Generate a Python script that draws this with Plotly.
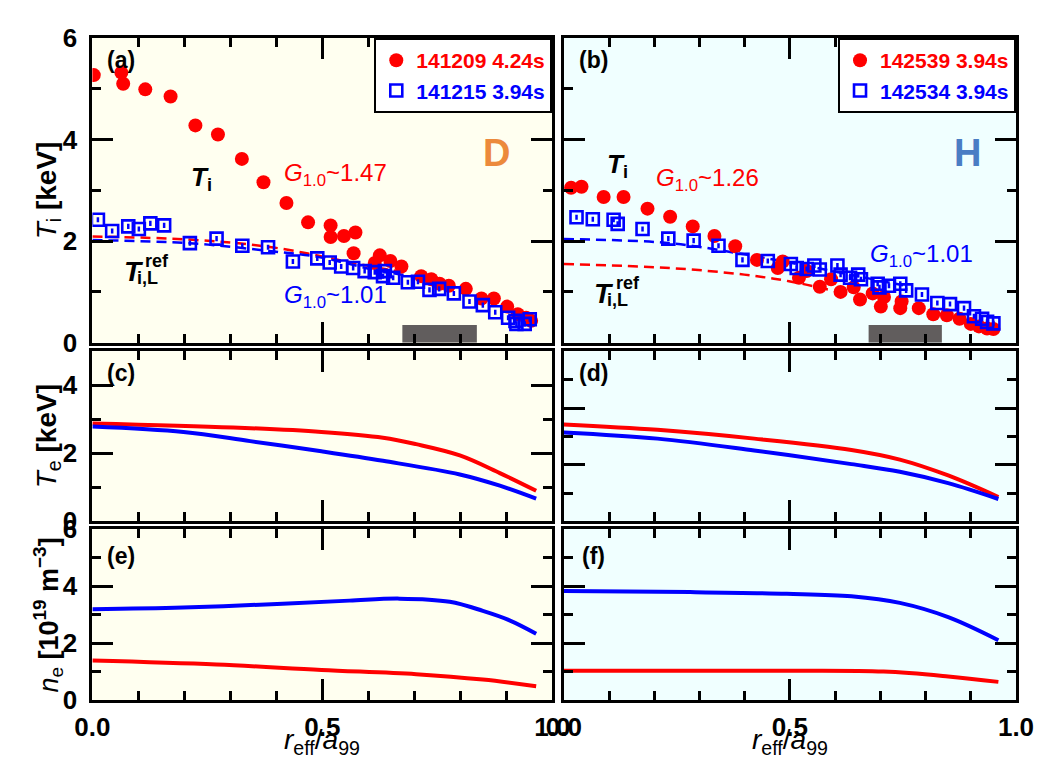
import plotly.graph_objects as go

W, H = 1063, 767
FONT = "Liberation Sans, Arial, sans-serif"
RED = "#FF0000"
BLUE = "#0000FF"

# ---------------- data ----------------
# (a) D plasma, Ti
a_red_x = [0.003, 0.063, 0.067, 0.115, 0.170, 0.224, 0.273, 0.325, 0.372, 0.422, 0.469, 0.518, 0.518,
           0.547, 0.572, 0.568, 0.625, 0.614, 0.648, 0.672, 0.715, 0.737, 0.755, 0.775, 0.812, 0.846,
           0.873, 0.902, 0.925, 0.943, 0.954]
a_red_y = [5.27, 5.32, 5.10, 4.99, 4.85, 4.28, 4.10, 3.62, 3.16, 2.75, 2.37, 2.31, 2.08,
           2.10, 2.17, 1.76, 1.72, 1.57, 1.61, 1.50, 1.31, 1.25, 1.16, 1.12, 1.06, 0.87,
           0.87, 0.71, 0.56, 0.49, 0.43]
a_blue_x = [0.012, 0.043, 0.078, 0.101, 0.126, 0.156, 0.212, 0.270, 0.326, 0.382, 0.436, 0.489, 0.516,
            0.541, 0.567, 0.592, 0.614, 0.636, 0.632, 0.654, 0.686, 0.708, 0.733, 0.754, 0.786, 0.820,
            0.849, 0.876, 0.904, 0.920, 0.922, 0.940, 0.951]
a_blue_y = [2.42, 2.20, 2.29, 2.24, 2.35, 2.31, 1.96, 2.05, 1.91, 1.88, 1.60, 1.66, 1.58,
            1.50, 1.47, 1.41, 1.39, 1.41, 1.31, 1.28, 1.19, 1.20, 1.04, 1.06, 0.97, 0.81,
            0.74, 0.60, 0.49, 0.43, 0.37, 0.37, 0.46]
a_ref_red_x = [0.0, 0.21, 0.39, 0.59, 0.68]
a_ref_red_y = [2.09, 2.03, 1.88, 1.53, 1.38]
a_ref_blue_x = [0.0, 0.21, 0.39, 0.49, 0.61, 0.68]
a_ref_blue_y = [2.02, 1.96, 1.80, 1.69, 1.44, 1.33]

# (b) H plasma, Ti
b_red_x = [0.016, 0.039, 0.088, 0.132, 0.185, 0.235, 0.285, 0.333, 0.379, 0.427, 0.473, 0.484, 0.520,
           0.537, 0.566, 0.591, 0.612, 0.641, 0.655, 0.683, 0.701, 0.708, 0.744, 0.747, 0.785, 0.817,
           0.847, 0.875, 0.900, 0.918, 0.936, 0.950]
b_red_y = [3.05, 3.07, 2.87, 2.87, 2.64, 2.48, 2.29, 2.10, 1.90, 1.63, 1.47, 1.60, 1.28,
           1.41, 1.10, 1.25, 1.00, 1.09, 0.85, 0.97, 0.71, 0.90, 0.68, 0.81, 0.68, 0.56,
           0.54, 0.47, 0.37, 0.32, 0.28, 0.27]
b_blue_x = [0.028, 0.064, 0.110, 0.119, 0.174, 0.231, 0.287, 0.342, 0.395, 0.451, 0.502, 0.515, 0.537,
            0.554, 0.566, 0.605, 0.612, 0.633, 0.651, 0.657, 0.694, 0.698, 0.719, 0.744, 0.757, 0.792,
            0.826, 0.854, 0.885, 0.907, 0.925, 0.936, 0.950]
b_blue_y = [2.47, 2.43, 2.42, 2.34, 2.24, 2.05, 2.01, 1.91, 1.63, 1.61, 1.55, 1.47, 1.45,
            1.52, 1.44, 1.52, 1.34, 1.28, 1.34, 1.25, 1.16, 1.09, 1.12, 1.16, 1.03, 0.95,
            0.78, 0.76, 0.68, 0.52, 0.47, 0.41, 0.38]
b_ref_red_x = [0.0, 0.235, 0.399, 0.498, 0.598]
b_ref_red_y = [1.55, 1.47, 1.34, 1.21, 1.02]
b_ref_blue_x = [0.0, 0.235, 0.399, 0.498, 0.705, 0.75]
b_ref_blue_y = [2.04, 1.96, 1.74, 1.58, 1.21, 1.13]

ti_err = 0.05

# (c) Te D
c_red_x = [0.0, 0.306, 0.498, 0.632, 0.704, 0.799, 0.886, 0.965]
c_red_y = [2.88, 2.76, 2.63, 2.46, 2.27, 1.94, 1.42, 0.90]
c_blue_x = [0.0, 0.198, 0.343, 0.498, 0.632, 0.799, 0.886, 0.965]
c_blue_y = [2.79, 2.63, 2.36, 2.06, 1.78, 1.38, 1.05, 0.67]
# (d) Te H
d_x = [0.0, 0.207, 0.421, 0.636, 0.743, 0.850, 0.961]
d_red_y = [3.42, 3.23, 2.92, 2.52, 2.18, 1.62, 0.86]
d_blue_y = [3.14, 2.92, 2.50, 2.02, 1.75, 1.35, 0.79]
# (e) ne D
e_blue_x = [0.0, 0.197, 0.414, 0.559, 0.668, 0.777, 0.849, 0.907, 0.965]
e_blue_y = [3.19, 3.25, 3.38, 3.49, 3.56, 3.45, 3.13, 2.80, 2.33]
e_red_x = [0.0, 0.270, 0.498, 0.704, 0.849, 0.965]
e_red_y = [1.39, 1.25, 1.06, 0.91, 0.72, 0.49]
# (f) ne H
f_blue_x = [0.0, 0.279, 0.493, 0.636, 0.743, 0.850, 0.961]
f_blue_y = [3.83, 3.79, 3.73, 3.64, 3.41, 2.91, 2.10]
f_red_x = [0.0, 0.493, 0.707, 0.850, 0.961]
f_red_y = [1.03, 1.03, 1.00, 0.83, 0.64]

legend_a = ["141209 4.24s", "141215 3.94s"]
legend_b = ["142539 3.94s", "142534 3.94s"]
gray_band = [0.674, 0.836, 0.35]

# ---------------- layout geometry (pixels) ----------------
LX = (77, 553)
RX = (565, 1033)
ROW_A = (24, 341)
ROW_C = (350, 527)
ROW_E = (535, 713)


def xd(p):
    return [p[0] / W, p[1] / W]


def yd(p):
    return [1 - p[1] / H, 1 - p[0] / H]


fig = go.Figure()

# dashed reference lines
for xs, ys, col, ax in [(a_ref_red_x, a_ref_red_y, RED, 1), (a_ref_blue_x, a_ref_blue_y, BLUE, 1),
                        (b_ref_red_x, b_ref_red_y, RED, 2), (b_ref_blue_x, b_ref_blue_y, BLUE, 2)]:
    sfx = "" if ax == 1 else str(ax)
    fig.add_trace(go.Scatter(x=xs, y=ys, mode="lines", line=dict(color=col, width=2.5, dash="10px,6px", shape="spline"),
                             xaxis="x" + sfx, yaxis="y" + sfx, showlegend=False, hoverinfo="skip"))


def circles(xs, ys, name, ax, leg):
    sfx = "" if ax == 1 else str(ax)
    return go.Scatter(x=xs, y=ys, mode="markers", name=f"<span style='color:{RED}'><b>{name}</b></span>",
                      marker=dict(symbol="circle", size=14, color=RED, line=dict(width=0)),
                      xaxis="x" + sfx, yaxis="y" + sfx, legend=leg, legendgroup=name)


def squares(xs, ys, name, ax, leg):
    sfx = "" if ax == 1 else str(ax)
    return go.Scatter(x=xs, y=ys, mode="markers", name=f"<span style='color:{BLUE}'><b>{name}</b></span>",
                      marker=dict(symbol="square-open", size=12, color=BLUE, line=dict(width=2.6, color=BLUE)),
                      error_y=dict(type="constant", value=ti_err, color=BLUE, thickness=2.5, width=0),
                      xaxis="x" + sfx, yaxis="y" + sfx, legend=leg, legendgroup=name)


fig.add_trace(circles(a_red_x, a_red_y, legend_a[0], 1, "legend"))
fig.add_trace(squares(a_blue_x, a_blue_y, legend_a[1], 1, "legend"))
fig.add_trace(circles(b_red_x, b_red_y, legend_b[0], 2, "legend2"))
fig.add_trace(squares(b_blue_x, b_blue_y, legend_b[1], 2, "legend2"))

for xs, ys, col, ax in [(c_red_x, c_red_y, RED, 3), (c_blue_x, c_blue_y, BLUE, 3),
                        (d_x, d_red_y, RED, 4), (d_x, d_blue_y, BLUE, 4),
                        (e_blue_x, e_blue_y, BLUE, 5), (e_red_x, e_red_y, RED, 5),
                        (f_blue_x, f_blue_y, BLUE, 6), (f_red_x, f_red_y, RED, 6)]:
    fig.add_trace(go.Scatter(x=xs, y=ys, mode="lines", line=dict(color=col, width=4, shape="spline"),
                             xaxis=f"x{ax}", yaxis=f"y{ax}", showlegend=False, hoverinfo="skip"))

tickfont = dict(family=FONT, size=26, color="black", weight="bold")


def xaxis(dom, anchor, labels):
    return dict(domain=xd(dom), anchor=anchor, range=[0, 1], showline=True, linecolor="black", linewidth=3,
                mirror="ticks", ticks="inside", ticklen=21, tickwidth=3, tickcolor="black",
                tick0=0, dtick=0.5, tickformat=".1f", showticklabels=labels, tickfont=tickfont,
                ticklabelstandoff=2,
                minor=dict(ticks="inside", ticklen=9, tickwidth=3, tickcolor="black", dtick=0.1),
                showgrid=False, zeroline=False)


def yaxis(dom, anchor, rng, labels):
    return dict(domain=yd(dom), anchor=anchor, range=rng, showline=True, linecolor="black", linewidth=3,
                mirror="ticks", ticks="inside", ticklen=21, tickwidth=3, tickcolor="black",
                tick0=0, dtick=2, showticklabels=labels, tickfont=tickfont,
                ticklabelstandoff=7,
                minor=dict(ticks="inside", ticklen=9, tickwidth=3, tickcolor="black", dtick=1),
                showgrid=False, zeroline=False)


legfont = dict(family=FONT, size=21)
layout = dict(
    width=W, height=H, margin=dict(l=0, r=0, t=0, b=0),
    paper_bgcolor="white", plot_bgcolor="rgba(0,0,0,0)",
    font=dict(family=FONT, color="black"),
    xaxis=xaxis(LX, "y", False), yaxis=yaxis(ROW_A, "x", [0, 6], True),
    xaxis2=xaxis(RX, "y2", False), yaxis2=yaxis(ROW_A, "x2", [0, 6], False),
    xaxis3=xaxis(LX, "y3", False), yaxis3=yaxis(ROW_C, "x3", [0, 5], True),
    xaxis4=xaxis(RX, "y4", False), yaxis4=yaxis(ROW_C, "x4", [0, 6], False),
    xaxis5=xaxis(LX, "y5", True), yaxis5=yaxis(ROW_E, "x5", [0, 6], True),
    xaxis6=xaxis(RX, "y6", True), yaxis6=yaxis(ROW_E, "x6", [0, 6], False),
    legend=dict(x=LX[1] / W, xanchor="right", y=1 - ROW_A[0] / H, yanchor="top", bgcolor="white",
                bordercolor="black", borderwidth=2, font=legfont,
                tracegroupgap=0, traceorder="grouped"),
    legend2=dict(x=RX[1] / W, xanchor="right", y=1 - ROW_A[0] / H, yanchor="top", bgcolor="white",
                 bordercolor="black", borderwidth=2, font=legfont,
                 tracegroupgap=0, traceorder="grouped"),
)
fig.update_layout(**layout)

# backgrounds
bgs = [("", "#FFFFF0"), ("2", "#F0FFFF"), ("3", "#FFFFF0"), ("4", "#F0FFFF"), ("5", "#FFFFF0"), ("6", "#F0FFFF")]
for sfx, col in bgs:
    fig.add_shape(type="rect", xref=f"x{sfx} domain", yref=f"y{sfx} domain", x0=0, x1=1, y0=0, y1=1,
                  fillcolor=col, line=dict(width=0), layer="below")
for sfx in ["", "2"]:
    fig.add_shape(type="rect", xref=f"x{sfx}", yref=f"y{sfx}", x0=gray_band[0], x1=gray_band[1], y0=0, y1=gray_band[2],
                  fillcolor="#615d5d", line=dict(width=0), layer="below")


def ann(text, x, y, size, color="black", angle=0, xanchor="center", yanchor="middle", yshift=0):
    fig.add_annotation(text=text, x=x / W, y=1 - y / H, xref="paper", yref="paper", showarrow=False,
                       font=dict(family=FONT, size=size, color=color), textangle=angle,
                       xanchor=xanchor, yanchor=yanchor, yshift=yshift)


# panel labels
for lab, x, y in [("(a)", 107, 47), ("(b)", 596, 47), ("(c)", 107, 373), ("(d)", 596, 373),
                  ("(e)", 107, 563), ("(f)", 596, 563)]:
    ann(f"<b>{lab}</b>", x, y, 23)

ann("<b>D</b>", 495, 144, 38, "#EC8A3C")
ann("<b>H</b>", 983, 144, 38, "#4A7DC4")

ann("<b><i>T</i><sub>i</sub></b>", 190, 170, 26)
ann("<b><i>T</i><sub>i</sub></b>", 620, 157, 26)
ann("<i>G</i><sub>1.0</sub>~1.47", 329, 166, 24, RED)
ann("<i>G</i><sub>1.0</sub>~1.01", 329, 293, 24, BLUE)
ann("<i>G</i><sub>1.0</sub>~1.26", 714, 171, 24, RED)
ann("<i>G</i><sub>1.0</sub>~1.01", 935, 250, 24, BLUE)

# T_i,L^ref labels
for tx, ty in [(120, 267), (607, 290)]:
    ann("<b><i>T</i></b>", tx, ty, 28)
    ann("<b>ref</b>", tx + 24, ty - 11, 18)
    ann("<b>i,L</b>", tx + 14, ty + 7, 18)

# axis titles
ann("<i>T</i><sub>i</sub> <b>[keV]</b>", 31, (ROW_A[0] + ROW_A[1]) / 2, 28, angle=-90)
ann("<i>T</i><sub>e</sub> <b>[keV]</b>", 31, (ROW_C[0] + ROW_C[1]) / 2, 28, angle=-90)
ann("<i>n</i><sub>e</sub> <b>[10<sup>19</sup> m<sup>−3</sup>]</b>", 31, (ROW_E[0] + ROW_E[1]) / 2, 27, angle=-90)
ann("<i>r</i><sub>eff</sub>/<i>a</i><sub>99</sub>", (LX[0] + LX[1]) / 2, 756, 28)
ann("<i>r</i><sub>eff</sub>/<i>a</i><sub>99</sub>", (RX[0] + RX[1]) / 2, 756, 28)

fig.write_html("out.html")
